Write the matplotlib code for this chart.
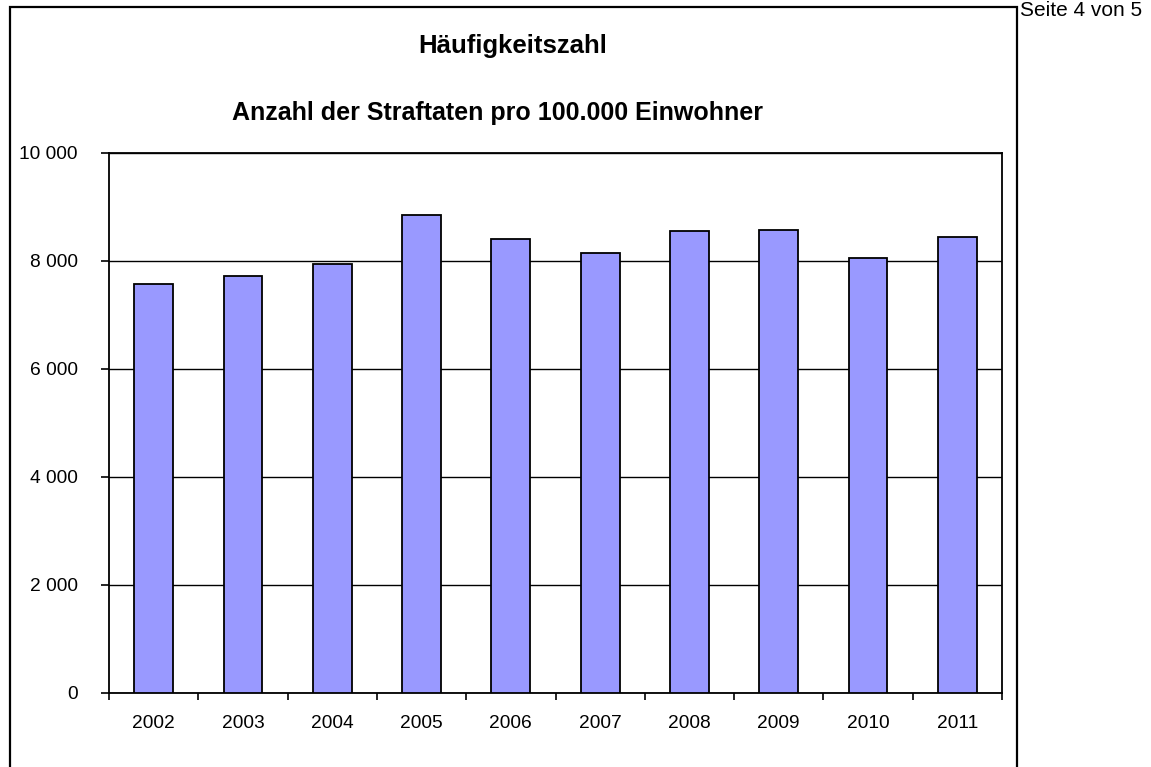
import matplotlib
matplotlib.use("Agg")
import matplotlib.pyplot as plt
from matplotlib.patches import Rectangle
from matplotlib.ticker import FuncFormatter

plt.rcParams["font.family"] = ["Liberation Sans", "DejaVu Sans"]

# data
years = ["2002", "2003", "2004", "2005", "2006", "2007", "2008", "2009", "2010", "2011"]
values = [7574, 7711, 7944, 8846, 8407, 8143, 8544, 8574, 8044, 8439]
y_ticks = [0, 2000, 4000, 6000, 8000, 10000]

W, H = 1151, 767
fig = plt.figure(figsize=(W / 100, H / 100), dpi=100)

# axes placed in pixel coords of the reference
left, right, top, bottom = 109, 1002, 152.5, 692.7
ax = fig.add_axes([left / W, 1 - bottom / H, (right - left) / W, (bottom - top) / H])

x = list(range(len(years)))
ax.bar(x, values, width=0.435, color="#9999FF", edgecolor="black", linewidth=1.3, zorder=3)

ax.set_xlim(-0.5, len(years) - 0.5)
ax.set_ylim(0, 10000)

ax.set_yticks(y_ticks)
ax.yaxis.set_major_formatter(FuncFormatter(lambda v, p: f"{int(v):,}".replace(",", " ")))
ax.grid(axis="y", color="black", linewidth=1.0, zorder=1)

# category labels centred, ticks between categories
ax.set_xticks(x)
ax.set_xticklabels(years)
ax.tick_params(axis="x", which="major", length=0, pad=16, labelsize=13.8)
ax.set_xticks([i - 0.5 for i in range(len(years) + 1)], minor=True)
ax.tick_params(axis="x", which="minor", length=5, width=1.2, direction="out")
ax.tick_params(axis="y", length=6, width=1.2, direction="out", pad=16.5, labelsize=13.8)

for s in ax.spines.values():
    s.set_linewidth(1.3)
    s.set_color("black")

# titles
fig.text(513 / W, 1 - 46 / H, "Häufigkeitszahl", ha="center", va="center",
         fontsize=18.5, fontweight="bold")
fig.text(497 / W, 1 - 113 / H, "Anzahl der Straftaten pro 100.000 Einwohner",
         ha="center", va="center", fontsize=18, fontweight="bold")

# outer frame of the chart object
fig.patches.append(Rectangle((9.5 / W, -0.05), (1017 - 9.5) / W, 1.05 - 6.7 / H,
                             transform=fig.transFigure, fill=False,
                             edgecolor="black", linewidth=1.6))

fig.text(1020 / W, 1 - 10 / H, "Seite 4 von 5", ha="left", va="center", fontsize=15)

fig.savefig("out.png", dpi=100, facecolor="white")
